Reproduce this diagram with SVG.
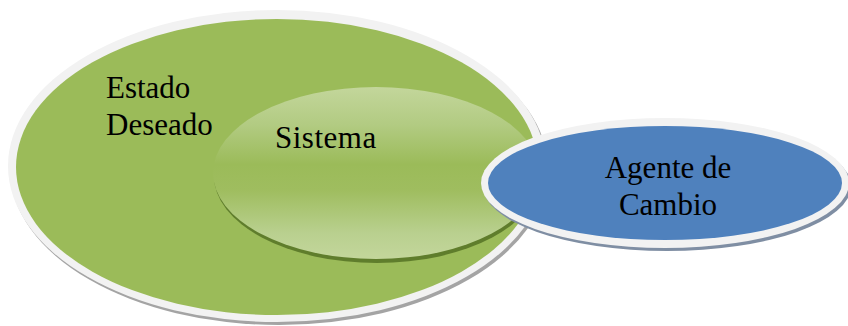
<svg xmlns="http://www.w3.org/2000/svg" width="848" height="326" viewBox="0 0 848 326">
  <defs>
    <linearGradient id="gSis" x1="0" y1="0" x2="0" y2="1">
      <stop offset="0" stop-color="#c3d69b"/>
      <stop offset="0.22" stop-color="#b2cb82"/>
      <stop offset="0.45" stop-color="#9bbb59"/>
      <stop offset="0.6" stop-color="#9fbd5f"/>
      <stop offset="0.85" stop-color="#b9d08f"/>
      <stop offset="1" stop-color="#c3d69b"/>
    </linearGradient>
  </defs>
  <style>
    text { font-family: 'Liberation Serif', 'Times New Roman', 'DejaVu Serif', serif; font-size: 31px; fill: #000000; }
    .rim { fill: #f2f2f2; }
    .shd { fill: #a4a4a4; }
  </style>
  <rect width="848" height="326" fill="#ffffff"/>
  <g id="estado">
    <ellipse class="shd" cx="279" cy="169" rx="269" ry="156"/>
    <ellipse class="rim" cx="277" cy="166" rx="269" ry="156"/>
    <ellipse cx="277" cy="167" rx="261" ry="148" fill="#9bbb59"/>
    <text x="106" y="98" font-family="Liberation Serif, serif">Estado</text>
    <text x="106" y="135" font-family="Liberation Serif, serif">Deseado</text>
  </g>
  <g id="sistema">
    <ellipse cx="377" cy="176" rx="163" ry="87" fill="#5f7d2c"/>
    <ellipse cx="376" cy="173" rx="163" ry="86" fill="url(#gSis)"/>
    <text x="275" y="148" letter-spacing="0.5" font-family="Liberation Serif, serif">Sistema</text>
  </g>
  <g id="agente">
    <ellipse cx="667" cy="186" rx="184" ry="65" fill="#7f8ea3"/>
    <ellipse class="rim" cx="665" cy="183" rx="184" ry="65"/>
    <ellipse cx="665" cy="183" rx="177" ry="57" fill="#4f81bd"/>
    <text x="668" y="178" text-anchor="middle" font-family="Liberation Serif, serif">Agente de</text>
    <text x="668" y="215" text-anchor="middle" font-family="Liberation Serif, serif">Cambio</text>
  </g>
  <g id="connectors"/>
</svg>
